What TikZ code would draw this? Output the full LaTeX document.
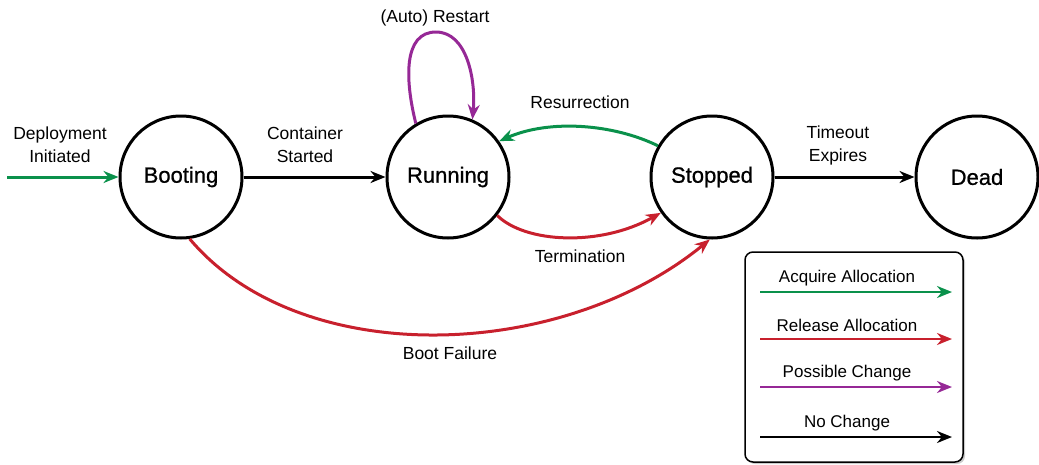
\documentclass[tikz,border=0pt]{standalone}
\usepackage{fontspec}
\setmainfont{Liberation Sans}
\newfontfamily\medfont[FakeBold=0.8]{Liberation Sans}
\usetikzlibrary{arrows.meta,shadows}
\definecolor{agreen}{RGB}{10,145,75}
\definecolor{ared}{RGB}{200,32,45}
\definecolor{apurple}{RGB}{150,40,150}
\begin{document}
\begin{tikzpicture}[x=1pt,y=1pt,
  state/.style={circle,draw,line width=3pt,minimum size=122pt,inner sep=0pt,font=\medfont\fontsize{22}{24}\selectfont},
  edge/.style={line width=3pt,-{Stealth[length=15pt,width=12pt]}},
  lbl/.style={font=\fontsize{17.5}{23}\selectfont,align=center,inner sep=0pt}]
\useasboundingbox (0,0) rectangle (1039,-464);
\node[state] (boot) at (181,-177) {\raisebox{-1pt}{Booting}};
\node[state] (run) at (448,-177) {\raisebox{-1pt}{Running}};
\node[state] (stop) at (712,-177) {\raisebox{-1pt}{Stopped}};
\node[state] (dead) at (977,-177) {\raisebox{-1pt}{Dead}};
\coordinate (start) at (7,-177);
\draw[edge,agreen] (start) -- (boot.west);
\draw[edge,black] (boot.east) -- (run.west);
\draw[edge,black] (stop.east) -- (dead.west);
\draw[edge,agreen] (stop.150) .. controls +(-45,22) and +(50,22) .. (run.35);
\draw[edge,ared] (run.-38) .. controls (525,-243) and (600,-247) .. (stop.-145);
\draw[edge,ared] (boot.-82) .. controls (300,-370) and (560,-362) .. (stop.-92);
\draw[edge,apurple] (run.121) .. controls (405,-80) and (403,-32) .. (436,-32)
   .. controls (467,-32) and (476,-80) .. (run.67);
\node[lbl] (l1) at (60,-145) {Deployment\\Initiated};
\node[lbl] (l2) at (305,-145) {Container\\Started};
\node[lbl] (l3) at (838,-145) {Timeout\\Expires};
\node[lbl] (l4) at (435,-18) {(Auto) Restart};
\node[lbl] (l5) at (580,-102) {Resurrection};
\node[lbl] (l6) at (580,-256) {Termination};
\node[lbl] (l7) at (450,-353) {Boot Failure};
% legend
\node[draw,line width=1.5pt,rounded corners=8pt,minimum width=218pt,minimum height=210pt,
  fill=white,drop shadow={shadow xshift=2pt,shadow yshift=-2pt,opacity=0.4}] (legend) at (854,-357) {};
\foreach \y/\c/\t [count=\i] in {292/agreen/Acquire Allocation,339/ared/Release Allocation,387/apurple/Possible Change,437/black/No Change}{
  \coordinate (la\i) at (760,-\y);
  \coordinate (lb\i) at (952,-\y);
  \draw[edge,line width=2.5pt,\c] (la\i) -- (lb\i);
  \node[lbl,font=\fontsize{17}{20}\selectfont] (lt\i) at (847,-\y+14) {\t};
}
\end{tikzpicture}
\end{document}
